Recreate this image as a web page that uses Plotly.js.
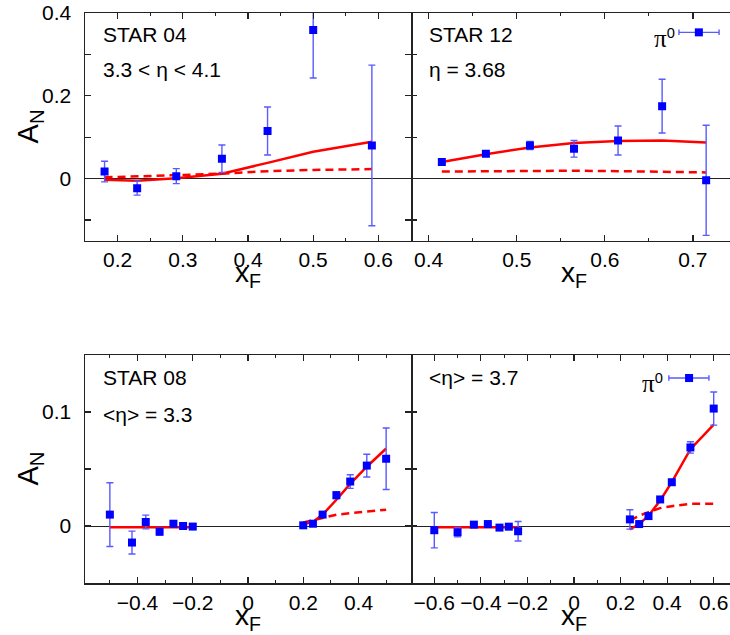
<!DOCTYPE html>
<html>
<head>
<meta charset="utf-8">
<script src="https://cdn.plot.ly/plotly-3.0.1.min.js"></script>
<style>
html,body{margin:0;padding:0;overflow:hidden;background:#fff;}
#chart{width:760px;height:635px;}
</style>
</head>
<body>
<div id="chart"></div>
<script>
// ---- STAR 04 (top left) ----
const x04 = [0.18, 0.23, 0.29, 0.36, 0.43, 0.50, 0.59];
const y04 = [0.017, -0.023, 0.006, 0.048, 0.115, 0.359, 0.080];
const e04 = [0.025, 0.017, 0.018, 0.033, 0.058, 0.116, 0.194];
const solid04 = [-0.003, -0.005, 0.001, 0.012, 0.038, 0.065, 0.089];
const dash04 = [0.003, 0.005, 0.008, 0.012, 0.018, 0.021, 0.023];

// ---- STAR 12 (top right) ----
const x12 = [0.415, 0.465, 0.515, 0.565, 0.615, 0.665, 0.715];
const y12 = [0.040, 0.060, 0.080, 0.072, 0.092, 0.175, -0.004];
const e12 = [0.003, 0.003, 0.010, 0.020, 0.035, 0.065, 0.133];
const solid12 = [0.040, 0.059, 0.075, 0.086, 0.091, 0.092, 0.087];
const dash12 = [0.017, 0.018, 0.019, 0.019, 0.018, 0.017, 0.015];

// ---- STAR 08 (bottom left) ----
const x08n = [-0.50, -0.42, -0.37, -0.32, -0.27, -0.235, -0.20];
const y08n = [0.010, -0.0145, 0.0035, -0.005, 0.002, 0.000, -0.0005];
const e08n = [0.028, 0.010, 0.006, 0.003, 0.002, 0.002, 0.002];
const solid08n = [-0.001, -0.001, -0.001, -0.001, -0.001, -0.001, -0.001];
const x08p = [0.20, 0.235, 0.27, 0.32, 0.37, 0.43, 0.50];
const y08p = [0.0006, 0.002, 0.010, 0.027, 0.039, 0.053, 0.059];
const e08p = [0.001, 0.001, 0.001, 0.003, 0.006, 0.010, 0.027];
const solid08p = [0.002, 0.0035, 0.010, 0.023, 0.037, 0.052, 0.068];
const dash08p = [0.003, 0.005, 0.0073, 0.0099, 0.0113, 0.0128, 0.0143];

// ---- <eta> = 3.7 (bottom right) ----
const x37n = [-0.60, -0.50, -0.43, -0.37, -0.32, -0.28, -0.24];
const y37n = [-0.0037, -0.0055, 0.0012, 0.0017, -0.0014, -0.0006, -0.0046];
const e37n = [0.0155, 0.004, 0.001, 0.001, 0.001, 0.001, 0.0085];
const solid37n = [-0.001, -0.001, -0.001, -0.001, -0.001, -0.001, -0.001];
const x37p = [0.24, 0.28, 0.32, 0.37, 0.42, 0.50, 0.60];
const y37p = [0.0058, 0.0017, 0.0087, 0.0233, 0.0384, 0.0689, 0.103];
const e37p = [0.0085, 0.001, 0.001, 0.001, 0.001, 0.005, 0.0145];
const solid37p = [-0.003, 0.0017, 0.009, 0.0224, 0.0384, 0.0674, 0.089];
const dash37p = [0.005, 0.009, 0.0122, 0.0157, 0.0174, 0.0195, 0.0195];

const RED = '#ff0000';
const BLUE = '#0000ff';
const EBLUE = '#5a5aff';

function solid(x, y, xa, ya) {
  return {x: x, y: y, xaxis: xa, yaxis: ya, mode: 'lines', type: 'scatter',
          line: {color: RED, width: 2.5}, showlegend: false, hoverinfo: 'skip'};
}
function dashed(x, y, xa, ya) {
  return {x: x, y: y, xaxis: xa, yaxis: ya, mode: 'lines', type: 'scatter',
          line: {color: RED, width: 2.5, dash: '8px,5px'}, showlegend: false, hoverinfo: 'skip'};
}
function pts(x, y, e, xa, ya) {
  return {x: x, y: y, xaxis: xa, yaxis: ya, mode: 'markers', type: 'scatter',
          marker: {symbol: 'square', size: 8, color: BLUE},
          error_y: {type: 'data', array: e, visible: true, color: EBLUE, thickness: 1.4, width: 3.5},
          showlegend: false, name: 'π0'};
}

const traces = [
  solid(x04, solid04, 'x', 'y'), dashed(x04, dash04, 'x', 'y'), pts(x04, y04, e04, 'x', 'y'),
  solid(x12, solid12, 'x2', 'y2'), dashed(x12, dash12, 'x2', 'y2'), pts(x12, y12, e12, 'x2', 'y2'),
  solid(x08n, solid08n, 'x3', 'y3'), pts(x08n, y08n, e08n, 'x3', 'y3'),
  solid(x08p, solid08p, 'x3', 'y3'), dashed(x08p, dash08p, 'x3', 'y3'), pts(x08p, y08p, e08p, 'x3', 'y3'),
  solid(x37n, solid37n, 'x4', 'y4'), pts(x37n, y37n, e37n, 'x4', 'y4'),
  solid(x37p, solid37p, 'x4', 'y4'), dashed(x37p, dash37p, 'x4', 'y4'), pts(x37p, y37p, e37p, 'x4', 'y4')
];

const FONT = 'Liberation Sans, Arial, Helvetica, sans-serif';

function xax(domain, range, dtick, mdtick, anchor) {
  return {domain: domain, range: range, anchor: anchor, tick0: 0, dtick: dtick,
          ticks: 'inside', ticklen: 6, tickwidth: 1.2, tickcolor: '#222',
          minor: {ticks: 'inside', ticklen: 3, dtick: mdtick, tick0: 0, tickcolor: '#222', tickwidth: 1.2},
          showline: true, linecolor: '#222', linewidth: 1.5, mirror: 'ticks',
          showgrid: false, zeroline: false,
          tickfont: {family: FONT, size: 21, color: '#000'}};
}
function yax(domain, range, dtick, mdtick, anchor, labels) {
  return {domain: domain, range: range, anchor: anchor, tick0: 0, dtick: dtick,
          ticks: 'inside', ticklen: 6, tickwidth: 1.2, tickcolor: '#222',
          minor: {ticks: 'inside', ticklen: 6, dtick: mdtick, tick0: 0, tickcolor: '#222', tickwidth: 1.2},
          showline: labels, linecolor: '#222', linewidth: 1.5, mirror: 'ticks',
          showgrid: false, zeroline: true, zerolinecolor: '#222', zerolinewidth: 1,
          showticklabels: labels, ticklabelstandoff: 8,
          tickfont: {family: FONT, size: 21, color: '#000'}};
}

function note(text, xref, yref, x, y, anchor) {
  return {text: text, xref: xref, yref: yref, x: x, y: y, xanchor: anchor || 'left', yanchor: 'middle',
          showarrow: false, font: {family: FONT, size: 21, color: '#000'}};
}
function xtitle(xref, yref, y) {
  return {text: 'x<sub>F</sub>', xref: xref, yref: yref, x: 0.5, y: y, xanchor: 'center', yanchor: 'top',
          showarrow: false, font: {family: FONT, size: 28, color: '#000'}};
}
function ytitle(xref, yref) {
  return {text: 'A<sub>N</sub>', xref: xref, yref: yref, x: -0.17, y: 0.5, xanchor: 'center', yanchor: 'middle',
          textangle: -90, showarrow: false, font: {family: FONT, size: 29, color: '#000'}};
}
const PI0 = '<span style="font-family:Liberation Serif, serif;font-size:25px">π</span><sup>0</sup>';

const annotations = [
  note('STAR 04', 'x domain', 'y domain', 0.05, 0.905),
  note('3.3 &lt; η &lt; 4.1', 'x domain', 'y domain', 0.05, 0.75),
  note('STAR 12', 'x2 domain', 'y2 domain', 0.05, 0.905),
  note('η = 3.68', 'x2 domain', 'y2 domain', 0.05, 0.75),
  note(PI0, 'x2 domain', 'y2 domain', 0.815, 0.89, 'right'),
  note('STAR 08', 'x3 domain', 'y3 domain', 0.05, 0.9),
  note('&lt;η&gt; = 3.3', 'x3 domain', 'y3 domain', 0.05, 0.74),
  note('&lt;η&gt; = 3.7', 'x4 domain', 'y4 domain', 0.05, 0.9),
  note(PI0, 'x4 domain', 'y4 domain', 0.778, 0.875, 'right'),
  xtitle('x domain', 'y domain', -0.062), xtitle('x2 domain', 'y2 domain', -0.062),
  xtitle('x3 domain', 'y3 domain', -0.064), xtitle('x4 domain', 'y4 domain', -0.064),
  ytitle('x domain', 'y domain'), ytitle('x3 domain', 'y3 domain')
];

function legendKey(xr, yr, x0, x1, xm, y) {
  return [
    {type: 'line', xref: xr, yref: yr, x0: x0, x1: x1, y0: y, y1: y, line: {color: EBLUE, width: 1.4}},
    {type: 'line', xref: xr, yref: yr, x0: x0, x1: x0, y0: y - 0.012, y1: y + 0.012, line: {color: EBLUE, width: 1.4}},
    {type: 'line', xref: xr, yref: yr, x0: x1, x1: x1, y0: y - 0.012, y1: y + 0.012, line: {color: EBLUE, width: 1.4}},
    {type: 'rect', xref: xr, yref: yr, x0: xm - 0.0123, x1: xm + 0.0123, y0: y - 0.0176, y1: y + 0.0176,
     fillcolor: BLUE, line: {width: 0}}
  ];
}

const shapes = [].concat(
  legendKey('x2 domain', 'y2 domain', 0.822, 0.945, 0.883, 0.915),
  legendKey('x4 domain', 'y4 domain', 0.791, 0.914, 0.853, 0.899)
);

const layout = {
  width: 760, height: 635,
  margin: {l: 85, r: 23, t: 13, b: 52},
  paper_bgcolor: '#fff', plot_bgcolor: '#fff',
  showlegend: false,
  font: {family: FONT, color: '#000'},
  xaxis: xax([0, 0.5], [0.15, 0.65], 0.1, 0.05, 'y'),
  yaxis: yax([0.6005, 1], [-0.15, 0.4], 0.2, 0.1, 'x', true),
  xaxis2: xax([0.5, 1], [0.38, 0.75], 0.1, 0.05, 'y2'),
  yaxis2: yax([0.6005, 1], [-0.15, 0.4], 0.2, 0.1, 'x2', false),
  xaxis3: xax([0, 0.5], [-0.59, 0.59], 0.2, 0.1, 'y3'),
  yaxis3: yax([0, 0.4], [-0.05, 0.15], 0.1, 0.05, 'x3', true),
  xaxis4: xax([0.5, 1], [-0.7, 0.7], 0.2, 0.1, 'y4'),
  yaxis4: yax([0, 0.4], [-0.05, 0.15], 0.1, 0.05, 'x4', false),
  annotations: annotations,
  shapes: shapes
};

Plotly.newPlot('chart', traces, layout, {displayModeBar: false, staticPlot: true});
</script>
</body>
</html>
